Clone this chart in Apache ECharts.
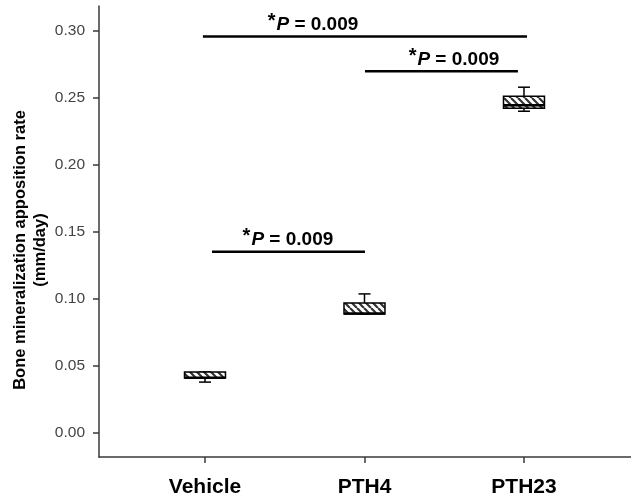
<!DOCTYPE html>
<html>
<head>
<meta charset="utf-8">
<script src="https://cdn.jsdelivr.net/npm/echarts@6/dist/echarts.min.js"></script>
<style>
  html, body { margin: 0; padding: 0; background: #fff; }
  #main { width: 631px; height: 500px; }
</style>
</head>
<body>
<div id="main"></div>
<script>
// groups on the x axis (placed at 1, 2, 3)
var categories = ['Vehicle', 'PTH4', 'PTH23'];
var catPos = [1, 2, 3];

// box plot values
var whiskerLow = [0.0380, 0.0888, 0.2398];
var q1 = [0.0410, 0.0888, 0.2421];
var median = [0.0413, 0.0891, 0.2442];
var q3 = [0.0455, 0.0970, 0.2510];
var whiskerHigh = [0.0455, 0.1037, 0.2577];

var yTicks = [0, 0.05, 0.10, 0.15, 0.20, 0.25, 0.30];

// significance brackets
var sigFrom = [0.987, 2.003, 1.044];
var sigTo = [3.019, 2.962, 2.003];
var sigLevel = [0.2955, 0.2695, 0.1351];
var sigTextAt = [1.677, 2.561, 1.520];
var sigValue = ['0.009', '0.009', '0.009'];

var boxData = catPos.map(function (x, i) {
  return [x, whiskerLow[i], q1[i], median[i], q3[i], whiskerHigh[i]];
});
var sigData = sigFrom.map(function (a, i) {
  return [a, sigTo[i], sigLevel[i], sigTextAt[i], sigValue[i]];
});

// hatch fill like the original boxes
function makeHatch () {
  var c = document.createElement('canvas');
  c.width = 7; c.height = 7;
  var ctx = c.getContext('2d');
  ctx.fillStyle = '#fff';
  ctx.fillRect(0, 0, 7, 7);
  ctx.strokeStyle = '#333';
  ctx.lineWidth = 2.2;
  ctx.beginPath();
  for (var k = -1; k <= 1; k++) {
    ctx.moveTo(k * 7, 0);
    ctx.lineTo(k * 7 + 7, 7);
  }
  ctx.stroke();
  return c;
}
var hatch = makeHatch();

var chart = echarts.init(document.getElementById('main'));
var fontFam = '"Liberation Sans", Arial, sans-serif';

chart.setOption({
  animation: false,
  grid: { left: 99, right: 0, top: 6, bottom: 43 },
  graphic: [{
    type: 'text',
    x: 30,
    y: 250,
    rotation: Math.PI / 2,
    style: {
      text: 'Bone mineralization apposition rate\n(mm/day)',
      align: 'center',
      verticalAlign: 'middle',
      fontFamily: fontFam,
      fontSize: 16.5,
      fontWeight: 'bold',
      lineHeight: 20,
      fill: '#000'
    }
  }],
  xAxis: {
    type: 'value',
    min: 0.3354,
    max: 3.671,
    splitLine: { show: false },
    axisLine: { onZero: false, lineStyle: { color: '#3a3a3a', width: 1.5 } },
    axisTick: { customValues: catPos, length: 6, lineStyle: { color: '#3a3a3a', width: 1.5 } },
    axisLabel: {
      customValues: catPos,
      margin: 20,
      fontFamily: fontFam,
      fontSize: 21,
      fontWeight: 'bold',
      color: '#000',
      formatter: function (v) { return categories[Math.round(v) - 1]; }
    }
  },
  yAxis: {
    type: 'value',
    min: -0.0178,
    max: 0.3182,
    splitLine: { show: false },
    axisLine: { show: true, onZero: false, lineStyle: { color: '#3a3a3a', width: 1.5 } },
    axisTick: { customValues: yTicks, length: 6, lineStyle: { color: '#3a3a3a', width: 1.5 } },
    axisLabel: {
      customValues: yTicks,
      margin: 14,
      fontFamily: fontFam,
      fontSize: 15.5,
      color: '#444',
      formatter: function (v) { return v.toFixed(2); }
    }
  },
  series: [
    {
      type: 'custom',
      data: boxData,
      encode: { x: 0, y: [1, 2, 3, 4, 5] },
      renderItem: function (params, api) {
        var x = api.value(0);
        var half = api.size([0.257, 0])[0] / 2;
        var capHalf = 6;
        var pLow = api.coord([x, api.value(1)]);
        var pQ1 = api.coord([x, api.value(2)]);
        var pMed = api.coord([x, api.value(3)]);
        var pQ3 = api.coord([x, api.value(4)]);
        var pHigh = api.coord([x, api.value(5)]);
        var cx = pQ1[0];
        var line = { stroke: '#000', lineWidth: 1.5 };
        return {
          type: 'group',
          children: [
            { type: 'line', shape: { x1: cx, y1: pHigh[1], x2: cx, y2: pQ3[1] }, style: line },
            { type: 'line', shape: { x1: cx - capHalf, y1: pHigh[1], x2: cx + capHalf, y2: pHigh[1] }, style: line },
            { type: 'line', shape: { x1: cx, y1: pLow[1], x2: cx, y2: pQ1[1] }, style: line },
            { type: 'line', shape: { x1: cx - capHalf, y1: pLow[1], x2: cx + capHalf, y2: pLow[1] }, style: line },
            {
              type: 'rect',
              shape: { x: cx - half, y: pQ3[1], width: half * 2, height: pQ1[1] - pQ3[1] },
              style: { fill: { image: hatch, repeat: 'repeat' }, stroke: '#000', lineWidth: 1.5 }
            },
            { type: 'line', shape: { x1: cx - half, y1: pMed[1], x2: cx + half, y2: pMed[1] }, style: { stroke: '#000', lineWidth: 2.5 } }
          ]
        };
      }
    },
    {
      type: 'custom',
      data: sigData,
      encode: { x: [0, 1], y: 2 },
      renderItem: function (params, api) {
        var a = api.coord([api.value(0), api.value(2)]);
        var b = api.coord([api.value(1), api.value(2)]);
        var t = api.coord([api.value(3), api.value(2)]);
        return {
          type: 'group',
          children: [
            { type: 'line', shape: { x1: a[0], y1: a[1], x2: b[0], y2: b[1] }, style: { stroke: '#000', lineWidth: 2.5 } },
            {
              type: 'text',
              style: {
                x: t[0],
                y: t[1] + 1,
                align: 'center',
                verticalAlign: 'bottom',
                text: '{s|*}{p|P}{n| = ' + api.value(4) + '}',
                rich: {
                  s: { fontFamily: fontFam, fontSize: 20, fontWeight: 'bold', fill: '#000', verticalAlign: 'top', padding: [0, 1, 6, 0] },
                  p: { fontFamily: fontFam, fontSize: 19, fontWeight: 'bold', fontStyle: 'italic', fill: '#000' },
                  n: { fontFamily: fontFam, fontSize: 19, fontWeight: 'bold', fill: '#000' }
                }
              }
            }
          ]
        };
      }
    }
  ]
});
</script>
</body>
</html>
